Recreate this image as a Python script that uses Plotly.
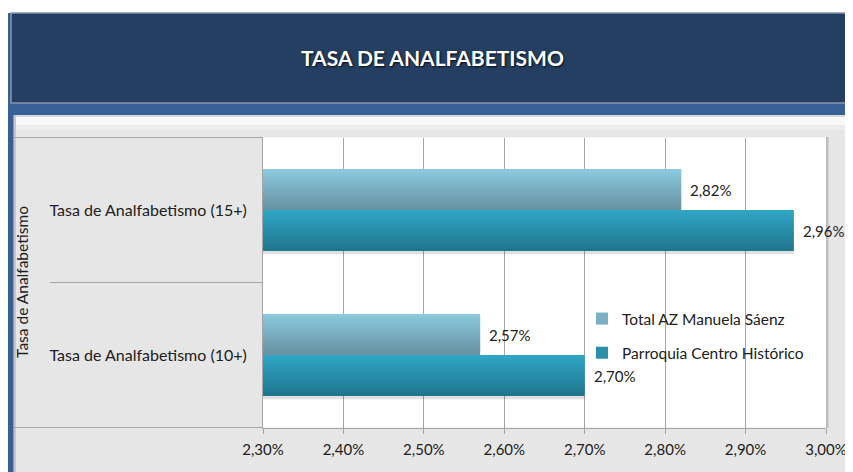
import plotly.graph_objects as go

# ---- data ----
categories = ["Tasa de Analfabetismo (10+)", "Tasa de Analfabetismo (15+)"]
series_names = ["Total AZ Manuela Sáenz", "Parroquia Centro Histórico"]
total_az = [2.57, 2.82]
parroquia = [2.70, 2.96]
x_ticks = [2.30, 2.40, 2.50, 2.60, 2.70, 2.80, 2.90, 3.00]
x_tick_labels = ["2,30%", "2,40%", "2,50%", "2,60%", "2,70%", "2,80%", "2,90%", "3,00%"]
title_text = "TASA DE ANALFABETISMO"
axis_title = "Tasa de Analfabetismo"

OFF = 8                      # page body margin
W, H = 853 - OFF, 472 - OFF
FONT = "Lato, 'Open Sans', sans-serif"
TXT = "#202020"


def px(x):
    return (x - OFF) / W


def py(y):
    return 1 - (y - OFF) / H


def lerp_color(c1, c2, t):
    a = [int(c1[i:i + 2], 16) for i in (1, 3, 5)]
    b = [int(c2[i:i + 2], 16) for i in (1, 3, 5)]
    return "#%02x%02x%02x" % tuple(round(a[k] + (b[k] - a[k]) * t) for k in range(3))


fig = go.Figure()

BW = 0.283          # bar thickness in category units
N = 12              # strips for gradient emulation
OV = 0.012          # strip overlap to avoid seams
styles = [
    (total_az, series_names[0], "#8AC8DC", "#6793A3", 0.0),
    (parroquia, series_names[1], "#2FA4C4", "#20788E", -BW),
]

for vals, name, ctop, cbot, off in styles:
    if off < 0:
        fig.add_trace(go.Bar(
            x=vals, y=categories, orientation="h", base=0,
            offset=off - 0.022, width=0.024,
            marker=dict(color="rgba(0,0,0,0.12)", line=dict(width=0)),
            showlegend=False, hoverinfo="skip"))
    h = BW / N
    for i in range(N):
        t = i / (N - 1)
        col = lerp_color(cbot, ctop, t)
        start = off + i * h
        width = min(h + OV, off + BW - start)
        fig.add_trace(go.Bar(
            x=vals, y=categories, orientation="h", base=0,
            offset=start, width=width,
            marker=dict(color=col, line=dict(width=0)),
            name=name, legendgroup=name,
            showlegend=(i == N // 2),
            hovertemplate="%{y}<br>" + name + ": %{x:.2f}%<extra></extra>"))

annotations = []
for vals, shift in ((total_az, 20), (parroquia, -21)):
    for c, v in zip(categories, vals):
        annotations.append(dict(
            x=v, y=c, xref="x", yref="y", text=f"{v:.2f}%".replace(".", ","),
            showarrow=False, xanchor="left", xshift=7, yshift=shift,
            font=dict(family=FONT, size=15, color=TXT)))

annotations.append(dict(
    x=px(432), y=py(58), xref="paper", yref="paper", text="<b>" + title_text + "</b>",
    showarrow=False, xanchor="center", yanchor="middle",
    font=dict(family=FONT, size=21, color="white", shadow="1px 1px 2px rgba(0,0,0,0.8)")))
annotations.append(dict(
    x=px(22), y=py(282), xref="paper", yref="paper", text=axis_title,
    showarrow=False, textangle=-90, xanchor="center", yanchor="middle",
    font=dict(family=FONT, size=15.5, color=TXT)))

shapes = []


def rect(x0, y0, x1, y1, fill, line=None):
    shapes.append(dict(type="rect", xref="paper", yref="paper",
                       x0=px(x0), x1=px(x1), y0=py(y1), y1=py(y0),
                       fillcolor=fill, layer="below",
                       line=dict(width=0) if line is None else line))


def hline(x0, x1, y, color="#A6A6A6", width=1):
    shapes.append(dict(type="line", xref="paper", yref="paper",
                       x0=px(x0), x1=px(x1), y0=py(y), y1=py(y),
                       line=dict(color=color, width=width), layer="below"))


rect(8, 13, 13, 472, "#376196")
rect(8, 103, 853, 115, "#376196")
rect(11, 13, 853, 103, "#243F62", line=dict(color="#8596AD", width=1.5))
rect(13, 115, 848, 472, "#E6E6E6")
rect(848, 115, 853, 472, "#CFCFCF")
rect(13, 115, 848, 117, "#D9D9D9")
rect(13, 117, 848, 125, "#F8F8F8")
rect(13, 125, 848, 130, "#EDEDED")
rect(13, 115, 14.5, 472, "#9A9A9A")
rect(14.5, 115, 16, 472, "#C8C8C8")
rect(263, 137.5, 826, 427.5, "#FFFFFF")          # white plot area
rect(826, 137, 828.5, 428, "#BDBDBD")
hline(14, 263, 137.5)
hline(50, 263, 282.5)
hline(14, 263, 427.5)

fig.update_layout(
    width=W, height=H, autosize=False,
    margin=dict(l=0, r=0, t=0, b=0, pad=0, autoexpand=False),
    paper_bgcolor="white", plot_bgcolor="white",
    barmode="overlay",
    separators=",.",
    font=dict(family=FONT, size=15, color=TXT),
    shapes=shapes, annotations=annotations,
    xaxis=dict(
        domain=[px(263), px(826)], range=[x_ticks[0], x_ticks[-1]],
        tickmode="array", tickvals=x_ticks, ticktext=x_tick_labels,
        showgrid=True, gridcolor="#A6A6A6", gridwidth=1,
        showline=True, linecolor="#A6A6A6", linewidth=1,
        ticks="outside", ticklen=5, tickcolor="#A6A6A6",
        ticklabelstandoff=3, automargin=False,
        tickfont=dict(family=FONT, size=15, color=TXT),
        zeroline=False, fixedrange=True),
    yaxis=dict(
        domain=[py(427.5), py(137.5)], range=[-0.5, 1.5],
        type="category", categoryorder="array", categoryarray=categories,
        showline=True, linecolor="#A6A6A6", linewidth=1,
        showgrid=False, ticks="", ticklabelstandoff=12, automargin=False,
        tickfont=dict(family=FONT, size=16, color=TXT),
        fixedrange=True),
    legend=dict(
        x=px(582), y=py(302), xanchor="left", yanchor="top",
        bgcolor="rgba(0,0,0,0)", traceorder="grouped", tracegroupgap=11,
        font=dict(family=FONT, size=15.5, color=TXT)),
)

fig.write_html("out.html")
